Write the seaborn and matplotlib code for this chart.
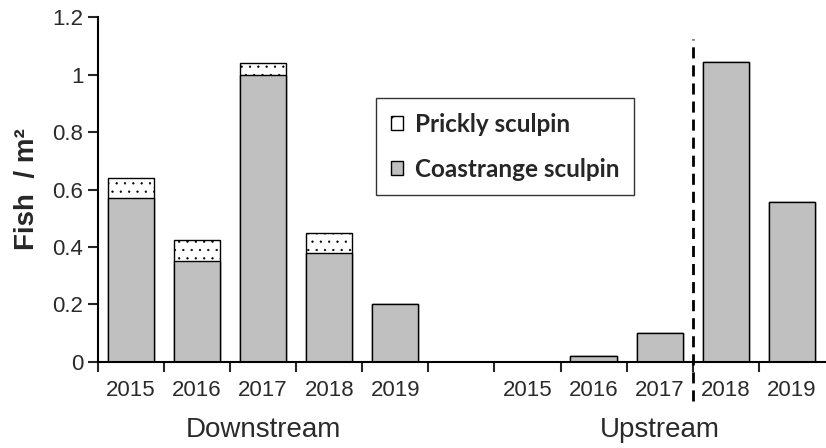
import matplotlib
matplotlib.use("Agg")
import matplotlib.pyplot as plt
from matplotlib.patches import Patch
from matplotlib.ticker import FormatStrFormatter
import pandas as pd
import seaborn as sns

# values (fish per m2)
years = ["2015", "2016", "2017", "2018", "2019"]
downstream_coast = [0.57, 0.35, 1.00, 0.38, 0.20]
downstream_prickly = [0.07, 0.075, 0.04, 0.07, 0.0]
upstream_coast = [0.0, 0.02, 0.10, 1.045, 0.555]
upstream_prickly = [0.0, 0.0, 0.0, 0.0, 0.0]
groups = ["Downstream", "Upstream"]

sns.set_theme(style="ticks")
plt.rcParams["font.family"] = ["Liberation Sans", "DejaVu Sans"]
plt.rcParams["hatch.linewidth"] = 0.4

# one slot per bar, empty slot between the two reaches
slots = ["D" + y for y in years] + ["gap"] + ["U" + y for y in years]
df = pd.DataFrame({
    "slot": slots,
    "coast": downstream_coast + [0.0] + upstream_coast,
    "prickly": downstream_prickly + [0.0] + upstream_prickly,
})
df["total"] = df["coast"] + df["prickly"]

fig = plt.figure(figsize=(8.26, 4.48), dpi=100)
ax = fig.add_axes([0.1186, 0.192, 0.88, 0.77])

sns.barplot(data=df, x="slot", y="total", order=slots, color="white",
            saturation=1, width=0.7, edgecolor="black", linewidth=1,
            hatch="..", ax=ax)
sns.barplot(data=df, x="slot", y="coast", order=slots, color="#c0c0c0",
            saturation=1, width=0.7, edgecolor="black", linewidth=1, ax=ax)

ax.set_xlim(-0.5, len(slots) - 0.5)
ax.set_ylim(0, 1.2)
ax.set_yticks([0, 0.2, 0.4, 0.6, 0.8, 1.0, 1.2])
ax.yaxis.set_major_formatter(FormatStrFormatter("%g"))

# tick marks between bars, year labels under bars
ax.set_xticks([i - 0.5 for i in range(len(slots))])
ax.set_xticklabels([])
ax.set_xticks(range(len(slots)), minor=True)
ax.set_xticklabels([y if s != "gap" else "" for s, y in
                    zip(slots, years + [""] + years)], minor=True)
ax.tick_params(axis="x", which="major", direction="out", length=7, width=1.5)
ax.tick_params(axis="x", which="minor", length=0, pad=13, labelsize=16, labelcolor="#2a2a2a")
ax.tick_params(axis="y", direction="out", length=7, width=1.5, labelsize=16, labelcolor="#2a2a2a")

ax.set_xlabel("")
ax.set_ylabel("Fish  / m²", fontsize=20, fontweight="bold", labelpad=9)

sns.despine(ax=ax)
for side in ["left", "bottom"]:
    ax.spines[side].set_linewidth(1.5)
    ax.spines[side].set_color("black")

ax.text(2, -0.235, groups[0], ha="center", va="center", fontsize=20,
        color="#2a2a2a", transform=ax.transData, clip_on=False)
ax.text(8, -0.235, groups[1], ha="center", va="center", fontsize=20,
        color="#2a2a2a", transform=ax.transData, clip_on=False)

ax.plot([8.5, 8.5], [-0.135, 1.123], color="black", linestyle=(0, (4, 2.5)),
        linewidth=2, clip_on=False)

handles = [Patch(facecolor="white", edgecolor="black", hatch=".", label="Prickly sculpin"),
           Patch(facecolor="#c0c0c0", edgecolor="black", label="Coastrange sculpin")]
leg = ax.legend(handles=handles, loc="upper left", bbox_to_anchor=(0.383, 0.765),
                frameon=True, fancybox=False, edgecolor="black",
                handlelength=0.5, handleheight=0.5, handletextpad=0.5,
                labelspacing=0.9, borderpad=0.6, borderaxespad=0,
                prop={"family": "Lato", "weight": "bold", "size": 17.5})
leg.get_frame().set_linewidth(1)

fig.savefig("out.png", dpi=100)
